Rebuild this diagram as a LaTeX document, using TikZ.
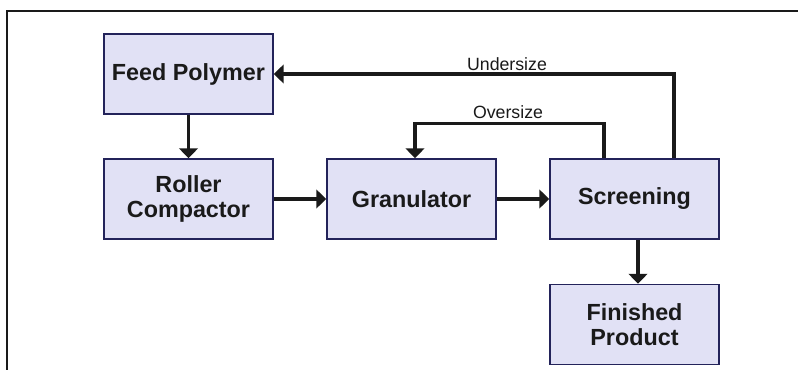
\documentclass[tikz,border=0pt]{standalone}
\usepackage{fontspec}
\setmainfont{Liberation Sans}
\usetikzlibrary{arrows.meta,calc}
\definecolor{boxfill}{HTML}{E1E1F5}
\definecolor{boxline}{HTML}{23235A}
\definecolor{ink}{HTML}{1A1A1A}
\begin{document}
\begin{tikzpicture}[x=0.75pt,y=-0.75pt,
  stage/.style={draw=boxline,fill=boxfill,line width=1.1pt,
    minimum width=126.75pt,minimum height=60pt,inner sep=0pt,
    align=center,text=ink,font=\fontsize{17.5}{18.5}\selectfont\bfseries},
  flow/.style={draw=ink,line width=2.4pt,
    -{Triangle[width=14pt,length=7.5pt]}},
  lbl/.style={text=ink,font=\fontsize{13.3}{15}\selectfont,inner sep=0pt}]
\useasboundingbox (0,0) rectangle (798,370);
% open frame
\draw[ink,line width=1pt] (7,370) -- (7,11) -- (798,11);
% process stages
\node[stage] (fp)  at (188.5,74)  {Feed Polymer};
\node[stage] (rc)  at (188.5,199) {Roller\\Compactor};
\node[stage] (gr)  at (411.5,199) {Granulator};
\node[stage] (sc)  at (634.5,199) {\raisebox{2pt}{Screening}};
\node[stage] (fin) at (634.5,324.5) {Finished\\Product};
% main flow
\draw[flow] (fp) -- (rc);
\draw[flow] (rc) -- (gr);
\draw[flow] (gr) -- (sc);
\draw[flow] ($(sc.south)+(3.5,0)$) -- ($(fin.north)+(3.5,0)$);
% recycle loops
\draw[flow] ($(sc.north)+(39.5,0)$) |- (fp.east);
\draw[flow] ($(sc.north)+(-30.5,0)$) -- ++(0,-35) -| ($(gr.north)+(3.5,0)$);
\node[lbl] (under) at (507,64)  {Undersize};
\node[lbl] (over)  at (508,112) {Oversize};
\end{tikzpicture}
\end{document}
